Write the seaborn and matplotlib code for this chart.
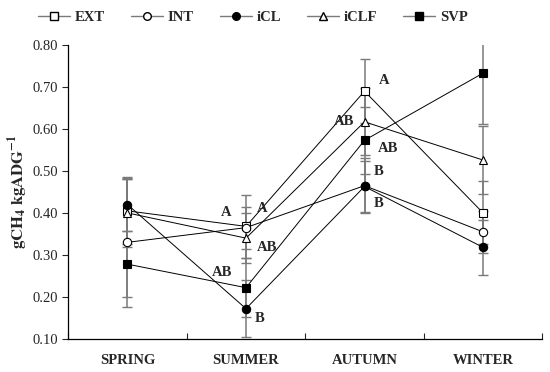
import numpy as np
import pandas as pd
import matplotlib
matplotlib.use('Agg')
import matplotlib.pyplot as plt
from matplotlib.lines import Line2D
import seaborn as sns

seasons = ['SPRING', 'SUMMER', 'AUTUMN', 'WINTER']
groups = ['EXT', 'INT', 'iCL', 'iCLF', 'SVP']

ext = [0.405, 0.368, 0.690, 0.400]
int_ = [0.330, 0.365, 0.465, 0.355]
icl = [0.420, 0.172, 0.463, 0.318]
iclf = [0.400, 0.340, 0.617, 0.526]
svp = [0.278, 0.222, 0.573, 0.733]

ext_err = [0.078, 0.075, 0.076, 0.075]
int_err = [0.155, 0.050, 0.065, 0.050]
icl_err = [0.062, 0.068, 0.060, 0.066]
iclf_err = [0.080, 0.060, 0.080, 0.080]
svp_err = [0.078, 0.070, 0.080, 0.120]

# significance letters: (season, group, letter)
letters = [
    ('SUMMER', 'EXT', 'A'), ('SUMMER', 'INT', 'A'), ('SUMMER', 'iCLF', 'AB'),
    ('SUMMER', 'SVP', 'AB'), ('SUMMER', 'iCL', 'B'),
    ('AUTUMN', 'EXT', 'A'), ('AUTUMN', 'iCLF', 'AB'), ('AUTUMN', 'SVP', 'AB'),
    ('AUTUMN', 'INT', 'B'), ('AUTUMN', 'iCL', 'B'),
]

values = {'EXT': ext, 'INT': int_, 'iCL': icl, 'iCLF': iclf, 'SVP': svp}
errors = {'EXT': ext_err, 'INT': int_err, 'iCL': icl_err, 'iCLF': iclf_err, 'SVP': svp_err}
markers = {'EXT': ('s', 'white'), 'INT': ('o', 'white'), 'iCL': ('o', 'black'),
           'iCLF': ('^', 'white'), 'SVP': ('s', 'black')}

sns.set_style('ticks')
plt.rcParams['font.family'] = ['Liberation Serif', 'DejaVu Serif']
plt.rcParams['mathtext.fontset'] = 'stix'

df = pd.DataFrame([(s, g, values[g][i]) for g in groups for i, s in enumerate(seasons)],
                  columns=['season', 'group', 'value'])
df['x'] = df['season'].map({s: i for i, s in enumerate(seasons)})

fig = plt.figure(figsize=(5.5, 3.72), dpi=100)
ax = fig.add_axes([0.124, 0.089, 0.862, 0.790])

sns.lineplot(data=df, x='x', y='value', units='group', estimator=None,
             color='black', linewidth=0.7, legend=False, ax=ax, zorder=2)

x = np.arange(len(seasons))
for g in groups:
    ax.errorbar(x, values[g], yerr=errors[g], fmt='none', ecolor='#7a7a7a',
                elinewidth=1.1, capsize=3.5, capthick=1.0, zorder=1)
    m, fc = markers[g]
    ax.plot(x, values[g], linestyle='none', marker=m, markersize=6 if m != '^' else 5.5,
            markerfacecolor=fc, markeredgecolor='black', markeredgewidth=0.8, zorder=3)

# letter placement offsets in points
offsets = {
    ('SUMMER', 'EXT'): (-14, 10), ('SUMMER', 'INT'): (12, 14), ('SUMMER', 'iCLF'): (15, -7),
    ('SUMMER', 'SVP'): (-17, 11), ('SUMMER', 'iCL'): (10, -7),
    ('AUTUMN', 'EXT'): (14, 8), ('AUTUMN', 'iCLF'): (-15, 0), ('AUTUMN', 'SVP'): (17, -6),
    ('AUTUMN', 'INT'): (10, 10), ('AUTUMN', 'iCL'): (10, -12),
}
for s, g, t in letters:
    i = seasons.index(s)
    ax.annotate(t, (i, values[g][i]), xytext=offsets[(s, g)], textcoords='offset points',
                ha='center', va='center', fontsize=10.5, fontweight='bold', zorder=4)

ax.set_xlim(-0.5, 3.5)
ax.set_ylim(0.10, 0.80)
ax.set_yticks(np.arange(0.1, 0.81, 0.1))
ax.set_yticklabels([f'{v:.2f}' for v in np.arange(0.1, 0.81, 0.1)], fontsize=10.5)
ax.set_xticks(x)
ax.set_xticklabels(seasons, fontsize=10.5, fontweight='bold')
ax.tick_params(axis='x', which='major', length=0, pad=11)
ax.set_xticks(np.arange(-0.5, 3.6, 1), minor=True)
ax.tick_params(axis='x', which='minor', direction='in', length=4, width=0.8)
ax.tick_params(axis='y', direction='out', length=4, width=0.8, pad=3)
ax.set_xlabel('')
ax.set_ylabel(r'$\mathbf{gCH_4\ kgADG^{-1}}$', fontsize=12, labelpad=2)
for sp in ['top', 'right']:
    ax.spines[sp].set_visible(False)
for sp in ['left', 'bottom']:
    ax.spines[sp].set_linewidth(0.9)
    ax.spines[sp].set_color('black')

handles = [Line2D([], [], color='#7a7a7a', linewidth=1.0, marker=markers[g][0],
                  markerfacecolor=markers[g][1], markeredgecolor='black',
                  markersize=5.5, label=g) for g in groups]
fig.legend(handles=handles, loc='upper center', bbox_to_anchor=(0.46, 1.005), ncol=5,
           frameon=False, handlelength=2.2, columnspacing=1.8,
           handletextpad=0.3, prop={'weight': 'bold', 'size': 10.5})

fig.savefig('out.png', dpi=100)
